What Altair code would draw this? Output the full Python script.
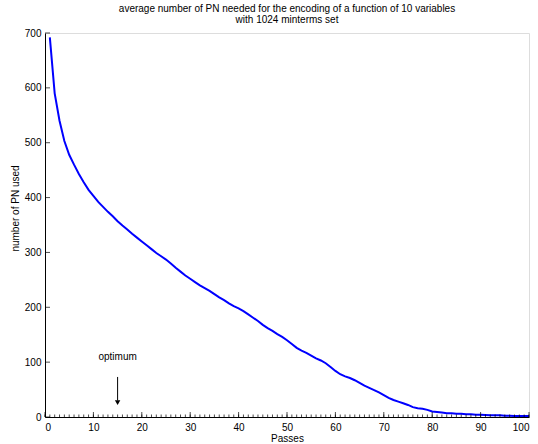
import altair as alt
import pandas as pd

passes = list(range(1, 101))
pn_used = [692, 590, 540, 503, 478, 460, 443, 428, 414, 403,
           392, 383, 374, 366, 357, 349, 342, 334, 327, 320,
           313, 306, 299, 293, 287, 280, 272, 265, 258, 252,
           246, 240, 235, 230, 224, 218, 213, 207, 202, 198,
           193, 187, 181, 175, 168, 162, 157, 151, 146, 140,
           133, 126, 121, 117, 112, 107, 103, 98, 91, 84,
           78, 74, 71, 67, 62, 57, 53, 49, 45, 40,
           35, 31, 28, 25, 22, 18, 16, 15, 13, 10,
           9, 8, 7, 7, 6, 6, 5, 5, 4, 4,
           3.5, 3, 3, 3, 2.5, 2.5, 2, 2, 2, 2]

x_major = list(range(0, 101, 10))
x_minor = list(range(0, 101, 1))
y_major = list(range(0, 701, 100))

annot_x = [15]
annot_text = ["optimum"]
annot_text_y = [109]
arrow_top = [73]
arrow_bottom = [30]
arrow_head = [26]

FONT = "Liberation Sans"
W, H = 484, 384

df = pd.DataFrame({"Passes": passes, "PN": pn_used})
xs = alt.Scale(domain=[0, 100], nice=False)
ys = alt.Scale(domain=[0, 700], nice=False)

line = alt.Chart(df).mark_line(color="#0000FF", strokeWidth=2).encode(
    x=alt.X("Passes:Q", scale=xs,
            axis=alt.Axis(values=x_major, title="Passes", grid=False, ticks=False,
                          labelPadding=5, titlePadding=1, domainColor="black",
                          titleFontWeight="normal", titleFont=FONT, titleFontSize=10)),
    y=alt.Y("PN:Q", scale=ys,
            axis=alt.Axis(values=y_major, title="number of PN used", grid=False, ticks=False,
                          labelPadding=4, domainColor="black",
                          titleFontWeight="normal", titleFont=FONT, titleFontSize=10,
                          titleX=-30, titleY=175, titleBaseline="middle")),
)

xminor = alt.Chart(pd.DataFrame({"v": x_minor})).mark_tick(
    orient="vertical", size=2.5, thickness=1, color="black", yOffset=-1.25
).encode(x=alt.X("v:Q", scale=xs), y=alt.datum(0, scale=ys))

xmajor = alt.Chart(pd.DataFrame({"v": x_major})).mark_tick(
    orient="vertical", size=5, thickness=1, color="black", yOffset=-2.5
).encode(x=alt.X("v:Q", scale=xs), y=alt.datum(0, scale=ys))

ymajor = alt.Chart(pd.DataFrame({"v": y_major})).mark_tick(
    orient="horizontal", size=5, thickness=1, color="black", xOffset=2.5
).encode(y=alt.Y("v:Q", scale=ys), x=alt.datum(0, scale=xs))

adf = pd.DataFrame({"x": annot_x, "t": annot_text, "ty": annot_text_y,
                    "a1": arrow_top, "a2": arrow_bottom, "ah": arrow_head})

atext = alt.Chart(adf).mark_text(font=FONT, fontSize=10, color="black", baseline="middle").encode(
    x=alt.X("x:Q", scale=xs), y=alt.Y("ty:Q", scale=ys), text="t:N")
arule = alt.Chart(adf).mark_rule(color="black", strokeWidth=1).encode(
    x=alt.X("x:Q", scale=xs), y=alt.Y("a1:Q", scale=ys), y2="a2:Q")
ahead = alt.Chart(adf).mark_point(shape="triangle-down", filled=True, color="black",
                                  size=30, opacity=1).encode(
    x=alt.X("x:Q", scale=xs), y=alt.Y("ah:Q", scale=ys))

chart = alt.layer(line, xminor, xmajor, ymajor, arule, ahead, atext).properties(
    width=W, height=H,
    title=alt.Title(["average number of PN needed for the encoding of a function of 10 variables",
                     "with 1024 minterms set"],
                    font=FONT, fontSize=10, fontWeight="normal", color="black",
                    anchor="middle", offset=3, lineHeight=11.5),
    autosize=alt.AutoSizeParams(type="none"),
    padding={"left": 45, "top": 33, "right": 9, "bottom": 27},
).configure_view(stroke=None).configure_axis(
    labelFont=FONT, titleFont=FONT, labelFontSize=10, titleFontSize=10,
    labelColor="black", titleColor="black", titleFontWeight="normal",
    domainWidth=1,
).configure(background="white")

chart.save("out.html", embed_options={"renderer": "svg", "actions": False})
